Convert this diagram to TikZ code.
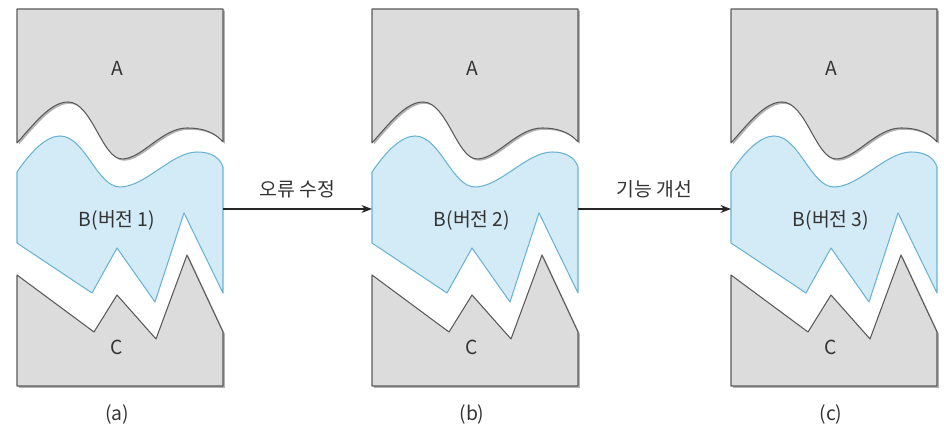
\documentclass[tikz,border=0pt]{standalone}
\usepackage{fontspec}
\setmainfont{Noto Sans CJK KR}
\usetikzlibrary{arrows.meta,shadows}
\definecolor{pgray}{HTML}{DCDCDC}
\definecolor{pedge}{HTML}{5A5A5A}
\definecolor{bfill}{HTML}{D3EAF7}
\definecolor{bedge}{HTML}{68B4D4}
\tikzset{
 grayshape/.style={fill=pgray, draw=pedge, line width=0.6pt, line join=round,
   drop shadow={shadow xshift=1pt, shadow yshift=-1pt, opacity=0.3, fill=black}},
 blueshape/.style={fill=bfill, draw=bedge, line width=0.6pt, line join=round},
 lbl/.style={font=\fontsize{11pt}{13pt}\selectfont, text=black!80, inner sep=1pt},
 conn/.style={draw=black!85, line width=0.7pt, -{Stealth[length=6pt,width=4.5pt]}}
}
\newcommand\verpanel[4]{%
\begin{scope}[shift={(#1,0)}]
 \path[grayshape] (0,9) -- (206,9) -- (206,142) .. controls (200,135) and (190,128) .. (170,128)
   .. controls (145,128) and (125,159) .. (105,159) .. controls (85,159) and (75,102) .. (51,102)
   .. controls (35,102) and (20,120) .. (0,143) -- cycle;
 \path[blueshape] (0,172) .. controls (15,150) and (30,136) .. (43,136)
   .. controls (68,136) and (80,187) .. (103,187) .. controls (128,187) and (155,152) .. (180,152)
   .. controls (195,152) and (203,158) .. (206,167) -- (206,293) -- (167,213) -- (138,302)
   -- (100,248) -- (75,293) -- (0,243) -- cycle;
 \path[grayshape] (0,275) -- (77,332) -- (100,295) -- (139,339) -- (170,255) -- (206,332)
   -- (206,386) -- (0,386) -- cycle;
 \node[lbl] (A#2) at (100,68) {A};
 \node[lbl] (B#2) at (100,220) {B(버전 #3)};
 \node[lbl] (C#2) at (100,347) {C};
 \node[lbl] (cap#2) at (100,414) {(#4)};
 \coordinate (L#2) at (0,209);
 \coordinate (R#2) at (206,209);
\end{scope}}
\begin{document}
\begin{tikzpicture}[x=0.02cm, y=-0.02cm]
\path[use as bounding box] (0,0) rectangle (944,431);
\verpanel{17}{a}{1}{a}
\verpanel{372}{b}{2}{b}
\verpanel{731}{c}{3}{c}
\draw[conn] (Ra) -- node[lbl, above=5pt] (e1) {오류 수정} (Lb);
\draw[conn] (Rb) -- node[lbl, above=5pt] (e2) {기능 개선} (Lc);
\end{tikzpicture}
\end{document}
